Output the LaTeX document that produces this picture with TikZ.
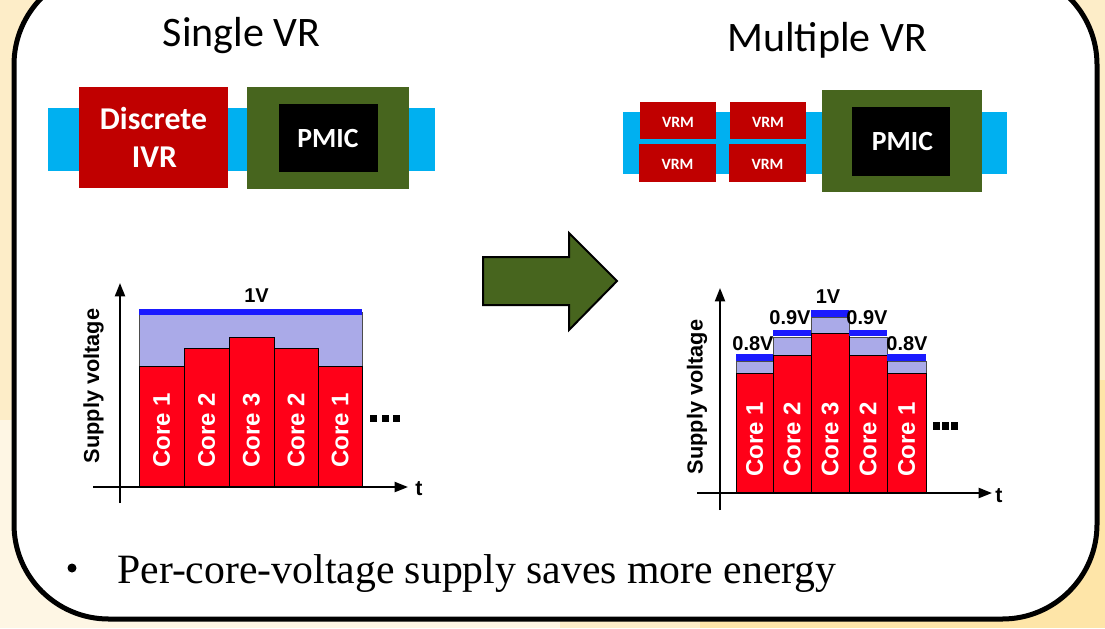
\documentclass[tikz,border=0pt]{standalone}
\usepackage{fontspec}
\usetikzlibrary{arrows.meta}
\newfontfamily\calfont{Carlito}
\newfontfamily\arialfont{Liberation Sans}
\newfontfamily\timesfont{Liberation Serif}
\definecolor{bgA}{HTML}{FDEDC8}
\definecolor{bgB}{HTML}{FEF6E4}
\definecolor{bgC}{HTML}{FEE5A8}
\definecolor{vrred}{HTML}{C00000}
\definecolor{pgreen}{HTML}{47651E}
\definecolor{band}{HTML}{00B0F0}
\definecolor{barred}{HTML}{FF0018}
\definecolor{lav}{HTML}{AAAAE8}
\definecolor{vblue}{HTML}{1A1AFF}
\tikzset{
  redbox/.style={fill=vrred},
  greenbox/.style={fill=pgreen},
  blackbox/.style={fill=black},
  bandbox/.style={fill=band},
  bar/.style={fill=barred, draw=black, line width=0.6pt},
  lavbox/.style={fill=lav, draw=black!70, line width=0.5pt},
  vline/.style={draw=vblue, line width=5pt},
  axis/.style={draw=black, line width=1.5pt, -{Triangle[width=7.5pt,length=10pt]}},
  coretxt/.style={text=white, font=\arialfont\bfseries\fontsize{18}{20}\selectfont, rotate=90, inner sep=0pt},
  vtxt/.style={font=\arialfont\bfseries\fontsize{15}{17}\selectfont, anchor=base, inner sep=0pt},
  ylab/.style={font=\arialfont\bfseries\fontsize{16.3}{18}\selectfont, rotate=90, inner sep=0pt},
  ttxt/.style={font=\arialfont\bfseries\fontsize{16}{18}\selectfont, anchor=base, inner sep=0pt},
  title/.style={font=\calfont\fontsize{31.5}{36}\selectfont, anchor=base, inner sep=0pt},
  boxtxt/.style={text=white, font=\calfont\bfseries\fontsize{23.8}{28}\selectfont, anchor=base, inner sep=0pt},
  pmictxt/.style={text=white, font=\calfont\bfseries\fontsize{20.8}{24}\selectfont, anchor=base, inner sep=0pt},
  vrmtxt/.style={text=white, font=\calfont\bfseries\fontsize{11.8}{14}\selectfont, anchor=base, inner sep=0pt},
  dot/.style={fill=black},
}
\begin{document}
\begin{tikzpicture}[x=0.75pt, y=-0.75pt]
\useasboundingbox (0,0) rectangle (1105,628);
\clip (0,0) rectangle (1105,628);
% background
\fill[bgA] (0,0) rectangle (1105,628);
\fill[bgB] (0,420) rectangle (560,628);
\fill[bgC] (700,380) rectangle (1105,628);
% frame
\draw[fill=white, line width=3.75pt, rounded corners=71pt] (14,-30) rectangle (1097,619);

% titles
\node[title] (t1) at (241.5,46) {Single VR};
\node[title] (t2) at (827,51) {Multiple VR};

% ---- single VR blocks
\fill[bandbox] (48,108) rectangle (435,171);
\fill[redbox] (79,87) rectangle (228,188);
\fill[greenbox] (247,87) rectangle (409,189);
\fill[blackbox] (279,104) rectangle (378,172);
\node[boxtxt] (d1) at (153.5,129) {Discrete};
\node[boxtxt] (d2) at (154.5,167) {IVR};
\node[pmictxt] (p1) at (328,147) {PMIC};

% ---- multiple VR blocks
\fill[bandbox] (623,112) rectangle (1007,174);
\fill[redbox] (640,102) rectangle (716,139);
\fill[redbox] (730,102) rectangle (806,139);
\fill[redbox] (639,144) rectangle (716,182);
\fill[redbox] (729,144) rectangle (806,182);
\node[vrmtxt] (v1) at (678,127) {VRM};
\node[vrmtxt] (v2) at (768,127) {VRM};
\node[vrmtxt] (v3) at (677.5,169) {VRM};
\node[vrmtxt] (v4) at (767.5,169) {VRM};
\fill[greenbox] (822,90) rectangle (982,192);
\fill[blackbox] (852,107) rectangle (950,176);
\node[pmictxt] (p2) at (902.5,150) {PMIC};

% ---- big arrow
\draw[fill=pgreen, line width=1.5pt, line join=miter]
  (483,257) -- (569,257) -- (569,233) -- (617,281) -- (569,330) -- (569,305) -- (483,305) -- cycle;

% ---- chart 1
\draw[lavbox] (139,312) rectangle (362,487);
\draw[bar] (139,366) rectangle (184,487);
\draw[bar] (184,348) rectangle (229,487);
\draw[bar] (229,337) rectangle (274,487);
\draw[bar] (274,348) rectangle (318,487);
\draw[bar] (318,366) rectangle (362,487);
\draw[vline] (139,312) -- (362,312);
\draw[axis] (120,503) -- (120,283);
\draw[axis] (93,487) -- (408,487);
\node[coretxt] (a1) at (161.5,430) {Core 1};
\node[coretxt] (a2) at (206.5,430) {Core 2};
\node[coretxt] (a3) at (251.5,430) {Core 3};
\node[coretxt] (a4) at (296,430) {Core 2};
\node[coretxt] (a5) at (340,430) {Core 1};
\node[ylab] (y1) at (93.5,386) {Supply voltage};
\node[vtxt] (l1) at (256.5,302) {1V};
\node[ttxt] (tt1) at (419,495) {t};
\fill[dot] (370,415) rectangle (377,422);
\fill[dot] (381.5,415) rectangle (388.5,422);
\fill[dot] (393,415) rectangle (400,422);

% ---- chart 2
\draw[lavbox] (736,361) rectangle (773,373);
\draw[lavbox] (773,337) rectangle (811,355);
\draw[lavbox] (811,317) rectangle (849,333);
\draw[lavbox] (849,337) rectangle (887,355);
\draw[lavbox] (887,361) rectangle (926,373);
\draw[bar] (736,373) rectangle (773,493);
\draw[bar] (773,355) rectangle (811,493);
\draw[bar] (811,333) rectangle (849,493);
\draw[bar] (849,355) rectangle (887,493);
\draw[bar] (887,373) rectangle (926,493);
\draw[vline] (736,357.5) -- (773,357.5);
\draw[vline] (773,333) -- (811,333);
\draw[vline] (811,313.5) -- (849,313.5);
\draw[vline] (849,333) -- (887,333);
\draw[vline] (887,357.5) -- (926,357.5);
\draw[axis] (720,510) -- (720,288);
\draw[axis] (697,493) -- (992,493);
\node[coretxt] (b1) at (754.5,439) {Core 1};
\node[coretxt] (b2) at (792,439) {Core 2};
\node[coretxt] (b3) at (830,439) {Core 3};
\node[coretxt] (b4) at (868,439) {Core 2};
\node[coretxt] (b5) at (906.5,439) {Core 1};
\node[ylab] (y2) at (697,397) {Supply voltage};
\node[vtxt] (m1) at (753,350) {0.8V};
\node[vtxt] (m2) at (790,324) {0.9V};
\node[vtxt] (m3) at (828,303) {1V};
\node[vtxt] (m4) at (867,324) {0.9V};
\node[vtxt] (m5) at (907,350) {0.8V};
\node[ttxt] (tt2) at (999,502) {t};
\fill[dot] (933,422) rectangle (940,430);
\fill[dot] (942,422) rectangle (949,430);
\fill[dot] (951,422) rectangle (958,430);

% ---- bullet
\fill[black] (72,568) circle (4.5);
\node[font=\timesfont\fontsize{31.3}{36}\selectfont, anchor=base west, inner sep=0pt] (bl) at (117,583) {Per-core-voltage supply saves more energy};
\end{tikzpicture}
\end{document}
